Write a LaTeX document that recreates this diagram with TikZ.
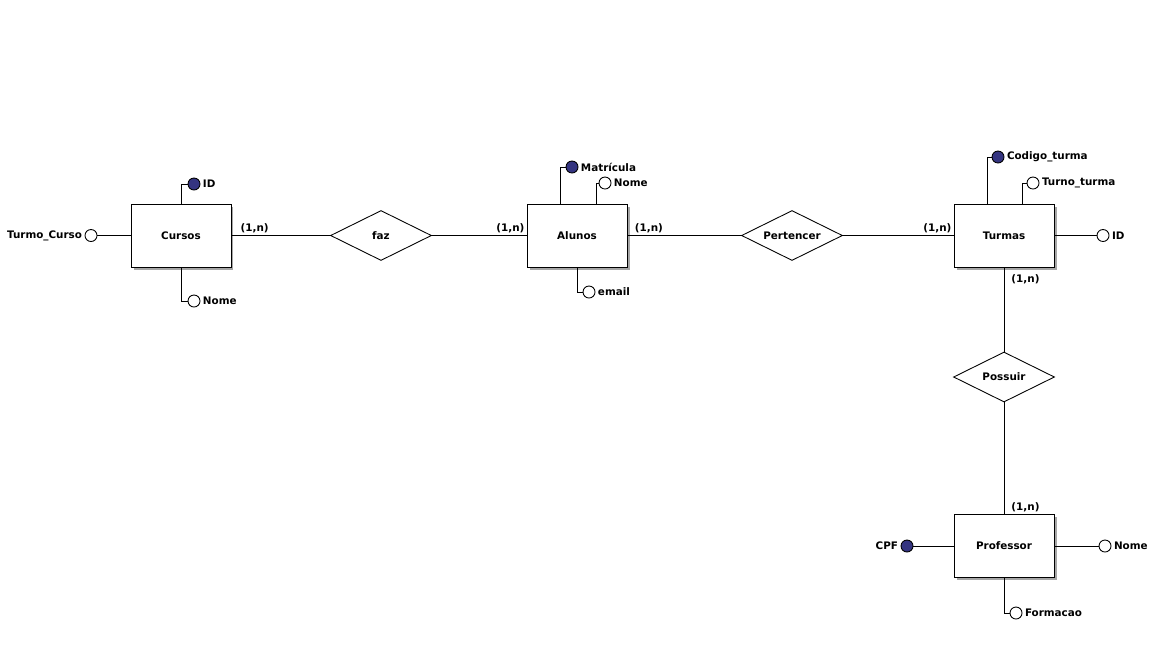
\documentclass[tikz,border=0pt]{standalone}
\usepackage{fontspec}
\setmainfont{DejaVu Sans}
\usetikzlibrary{shapes.geometric,shadows,calc}
\definecolor{keyblue}{RGB}{52,52,128}
\tikzset{
	entity/.style={draw, fill=white, minimum width=2cm, minimum height=1.26cm, inner sep=0pt,
		drop shadow={shadow xshift=0.05cm, shadow yshift=-0.05cm, fill=gray!70, opacity=1}},
	relation/.style={draw, fill=white, diamond, aspect=2, minimum width=2.02cm, minimum height=1cm, inner sep=0pt},
	attrib/.style={draw, circle, fill=white, minimum size=0.24cm, inner sep=0pt},
	keyattrib/.style={attrib, fill=keyblue},
	card/.style={inner sep=1pt}
}
\begin{document}
\begin{tikzpicture}[x=0.02cm, y=-0.02cm, font=\fontsize{5.9}{7}\selectfont\bfseries,
		label distance=0pt, every label/.style={inner sep=1.2pt}, line width=0.5pt]
	\useasboundingbox (0,0) rectangle (1158,660);
	% entities and relations
	\node[entity] (cursos) at (181,235.5) {Cursos};
	\node[entity] (alunos) at (577,235.5) {Alunos};
	\node[entity] (turmas) at (1004,235.5) {Turmas};
	\node[entity] (professor) at (1004,546) {Professor};
	\node[relation] (faz) at (381,235.5) {faz};
	\node[relation] (pertencer) at (792,235.5) {Pertencer};
	\node[relation] (possuir) at (1004,377) {Possuir};
	% attributes
	\node[keyattrib, label=right:ID] (cursosID) at (194,184) {};
	\node[attrib, label=right:Nome] (cursosNome) at (194,301) {};
	\node[attrib, label=left:Turmo\_Curso] (cursosTurmo) at (91,235.5) {};
	\node[keyattrib, label=right:Matrícula] (alunosMat) at (572,167) {};
	\node[attrib, label=right:Nome] (alunosNome) at (605,183) {};
	\node[attrib, label=right:email] (alunosEmail) at (589,292) {};
	\node[keyattrib, label=right:Codigo\_turma] (turmasCod) at (998,157) {};
	\node[attrib, label=right:Turno\_turma] (turmasTurno) at (1033,183) {};
	\node[attrib, label=right:ID] (turmasID) at (1103,235.5) {};
	\node[keyattrib, label=left:CPF] (profCPF) at (907,546) {};
	\node[attrib, label=right:Nome] (profNome) at (1105,546) {};
	\node[attrib, label=right:Formacao] (profForm) at (1016,613) {};
	% attribute links
	\draw (cursos.north) |- (cursosID);
	\draw (cursos.south) |- (cursosNome);
	\draw (cursos) -- (cursosTurmo);
	\draw ($(alunos.north west)!0.34!(alunos.north east)$) |- (alunosMat);
	\draw ($(alunos.north west)!0.69!(alunos.north east)$) |- (alunosNome);
	\draw (alunos.south) |- (alunosEmail);
	\draw ($(turmas.north west)!0.34!(turmas.north east)$) |- (turmasCod);
	\draw ($(turmas.north west)!0.68!(turmas.north east)$) |- (turmasTurno);
	\draw (turmas) -- (turmasID);
	\draw (professor) -- (profCPF);
	\draw (professor) -- (profNome);
	\draw (professor.south) |- (profForm);
	% relationship links
	\draw (cursos) -- node[card, pos=0, above right, xshift=4pt] {(1,n)} (faz);
	\draw (faz) -- node[card, pos=1, above left] {(1,n)} (alunos);
	\draw (alunos) -- node[card, pos=0, above right, xshift=3pt] {(1,n)} (pertencer);
	\draw (pertencer) -- node[card, pos=1, above left] {(1,n)} (turmas);
	\draw (turmas) -- node[card, pos=0, below right, xshift=3pt, yshift=-3pt] {(1,n)} (possuir);
	\draw (possuir) -- node[card, pos=1, above right, xshift=3pt] {(1,n)} (professor);
\end{tikzpicture}
\end{document}
